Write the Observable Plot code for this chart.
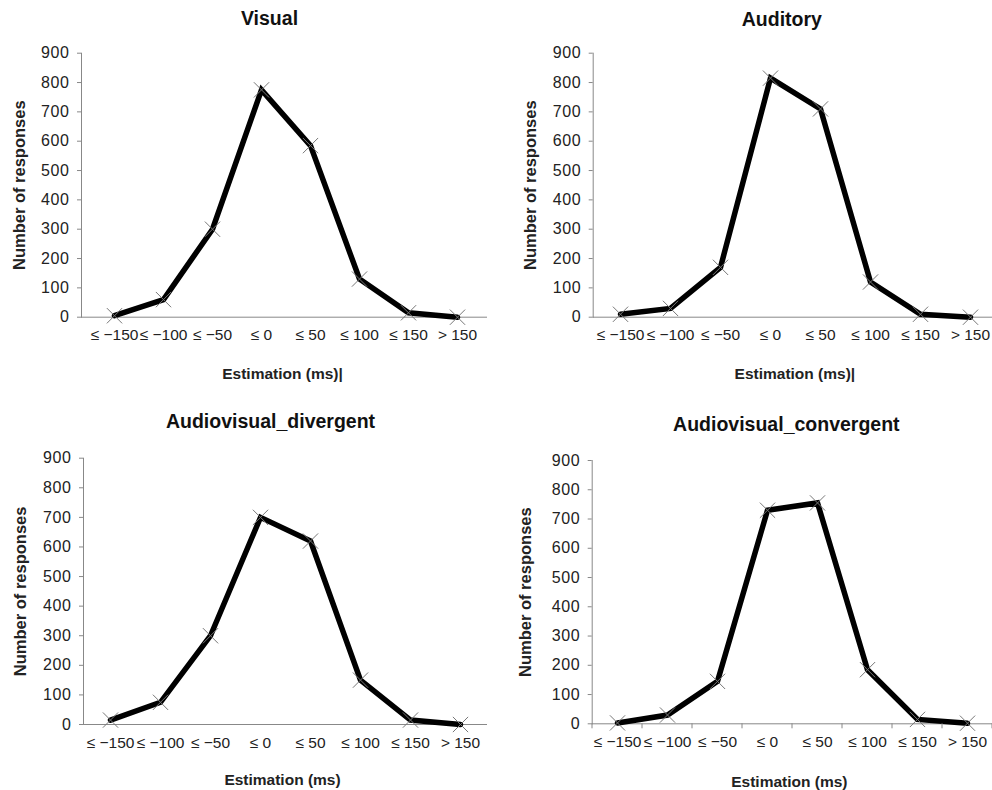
<!DOCTYPE html>
<html>
<head>
<meta charset="utf-8">
<script src="https://cdn.jsdelivr.net/npm/d3@7"></script>
<script src="https://cdn.jsdelivr.net/npm/@observablehq/plot@0.6"></script>
<style>
  html, body { margin: 0; padding: 0; background: #fff; }
  #chart { position: relative; width: 992px; height: 790px; background: #fff; overflow: hidden; }
  #chart svg { position: absolute; }
  #chart svg [aria-label="y-axis tick label"] text { font-size: 16px; letter-spacing: 0.6px; }
  #chart svg [aria-label="x-axis tick label"] text { font-size: 15.5px; }
</style>
</head>
<body>
<div id="chart"></div>
<script>
// ---- data ----
const categories = ["≤ −150", "≤ −100", "≤ −50", "≤ 0", "≤ 50", "≤ 100", "≤ 150", "> 150"];
const visual     = [5, 60, 300, 775, 585, 130, 15, 0];
const auditory   = [10, 30, 170, 815, 710, 120, 10, 0];
const divergent  = [15, 75, 300, 700, 620, 150, 15, 0];
const convergent = [3, 30, 145, 730, 755, 185, 15, 2];
const yTicks = [0, 100, 200, 300, 400, 500, 600, 700, 800, 900];
const titles = ["Visual", "Auditory", "Audiovisual_divergent", "Audiovisual_convergent"];
const xLabels = ["Estimation (ms)|", "Estimation (ms)|", "Estimation (ms)", "Estimation (ms)"];
const yLabel = "Number of responses";

// ---- layout ----
const panels = [
  {values: visual, title: titles[0], xLabel: xLabels[0], left: 0, top: 0, width: 496, height: 400,
   mL: 81, mT: 52.7, mB: 83.3, mR: 9, padding: 0.56, align: 0.53, boundaryTicks: false,
   tdx: -15, tdy: -34, xdx: -2, xdy: 57, ydx: -62},
  {values: auditory, title: titles[1], xLabel: xLabels[1], left: 496, top: 0, width: 496, height: 400,
   mL: 96.7, mT: 52.7, mB: 83.3, mR: 0, padding: 0.47, align: 0.55, boundaryTicks: false,
   tdx: -11, tdy: -33, xdx: 2, xdy: 57, ydx: -62},
  {values: divergent, title: titles[2], xLabel: xLabels[2], left: 0, top: 400, width: 496, height: 390,
   mL: 83, mT: 57.7, mB: 66, mR: 9, padding: 0.49, align: 0.5, boundaryTicks: false,
   tdx: -15, tdy: -36, xdx: -3, xdy: 56, ydx: -63},
  {values: convergent, title: titles[3], xLabel: xLabels[3], left: 496, top: 400, width: 496, height: 390,
   mL: 95.7, mT: 60, mB: 66.7, mR: 0, padding: 0.5, align: 0.5, boundaryTicks: true,
   tdx: -6, tdy: -36, xdx: -3, xdy: 58, ydx: -66}
];

const font = "'Liberation Sans', Arial, Helvetica, sans-serif";
const chart = document.getElementById("chart");

function boundaryTickMark(index, scales, values, dimensions) {
  const x = scales.x, y = scales.y;
  const pos = categories.map(c => x(c));
  const step = pos[1] - pos[0];
  const bounds = [pos[0] - step / 2, ...pos.map(p => p + step / 2)];
  const y0 = y(0);
  const g = d3.create("svg:g");
  g.selectAll("line").data(bounds).join("line")
    .attr("x1", d => d).attr("x2", d => d)
    .attr("y1", y0).attr("y2", y0 + 5)
    .attr("stroke", "#888").attr("stroke-width", 1);
  return g.node();
}

for (const p of panels) {
  const rows = categories.map((c, i) => ({cat: c, value: p.values[i]}));
  const marks = [
    Plot.frame({anchor: "left", stroke: "#888"}),
    Plot.ruleY([0], {stroke: "#888"}),
    Plot.axisY({ticks: yTicks, tickSize: 4, tickPadding: 8, stroke: "#888", fill: "#222", label: null}),
    Plot.axisX({tickSize: 0, tickPadding: 12, fill: "#222", label: null}),
    Plot.line(rows, {x: "cat", y: "value", stroke: "#000", strokeWidth: 5.5, strokeLinejoin: "miter", strokeMiterlimit: 6}),
    Plot.dot(rows, {x: "cat", y: "value", symbol: "times", r: 7, stroke: "#777", strokeWidth: 1}),
    Plot.text([p.title], {frameAnchor: "top", dx: p.tdx, dy: p.tdy, fontSize: 19.5, fontWeight: "bold", fill: "#111", lineAnchor: "middle"}),
    Plot.text([p.xLabel], {frameAnchor: "bottom", dx: p.xdx, dy: p.xdy, fontSize: 15.5, fontWeight: "bold", fill: "#222", lineAnchor: "middle"}),
    Plot.text([yLabel], {frameAnchor: "left", dx: p.ydx, rotate: -90, textAnchor: "middle", fontSize: 16.5, fontWeight: "bold", fill: "#222", lineAnchor: "middle"})
  ];
  if (p.boundaryTicks) marks.push(boundaryTickMark);
  const svg = Plot.plot({
    width: p.width,
    height: p.height,
    marginLeft: p.mL,
    marginRight: p.mR,
    marginTop: p.mT,
    marginBottom: p.mB,
    style: {fontFamily: font, fontSize: "15px", background: "#fff", overflow: "visible"},
    x: {type: "point", domain: categories, padding: p.padding, align: p.align},
    y: {domain: [0, 900]},
    marks
  });
  svg.style.left = p.left + "px";
  svg.style.top = p.top + "px";
  chart.appendChild(svg);
}
</script>
</body>
</html>
